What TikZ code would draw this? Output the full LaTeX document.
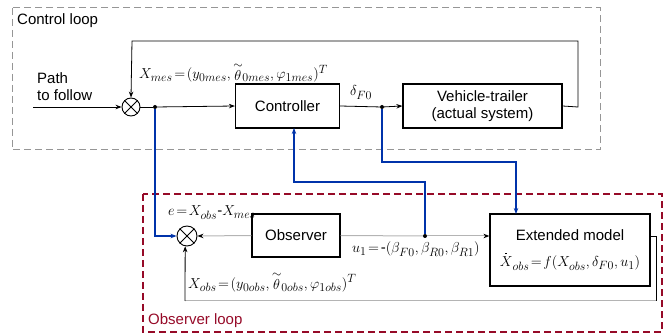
\documentclass[tikz,border=0pt]{standalone}
\usepackage{fontspec}
\setmainfont{Liberation Sans}
\DeclareMathSizes{15}{15}{11.5}{9}
\usetikzlibrary{arrows.meta}
\definecolor{lblue}{RGB}{0,51,170}
\definecolor{dred}{RGB}{150,10,40}
\definecolor{dgray}{RGB}{150,150,150}
\definecolor{wgray}{RGB}{180,180,180}
\newcommand{\tth}{\mathord{\stackrel{\sim}{\theta}}}
\newcommand{\dX}{\mathord{\rlap{\hspace{5.5pt}\rule[12.5pt]{1.5pt}{1.5pt}}X}}
\begin{document}
\begin{tikzpicture}[x=1pt,y=-1pt,
  blk/.style={draw,line width=1.2pt,inner sep=0pt,align=center,font=\fontsize{15}{17}\selectfont},
  txt/.style={inner sep=0pt,font=\fontsize{15}{17}\selectfont},
  mth/.style={inner sep=0pt,font=\fontsize{15}{17}\selectfont},
  sumnode/.style={circle,draw,line width=0.9pt,inner sep=0pt},
  arr/.style={-{Stealth[length=6pt,width=4.5pt]}},
  wire/.style={line width=0.8pt},
  gwire/.style={line width=1pt,draw=wgray},
  bl/.style={draw=lblue,line width=2pt},
  dotnode/.style={circle,fill,inner sep=0pt,minimum size=4pt}
]
\useasboundingbox (0,0) rectangle (665,334);

% loop frames
\draw[dgray,line width=1pt,dash pattern=on 7pt off 4pt] (12,8) rectangle (600,150);
\draw[dred,line width=1.2pt,dash pattern=on 7pt off 4pt] (143,194) rectangle (662,332);
\node[txt,anchor=west] (lctrl) at (17,21) {Control loop};
\node[txt,anchor=west,text=dred] (lobs) at (148,321) {Observer loop};

% blocks
\node[blk,minimum width=104pt,minimum height=44pt] (ctrl) at (287.5,106) {Controller};
\node[blk,minimum width=159pt,minimum height=44pt] (veh) at (482.5,106) {Vehicle-trailer\\(actual system)};
\node[blk,minimum width=88pt,minimum height=43pt] (obs) at (296,235.5) {Observer};
\node[blk,minimum width=160pt,minimum height=72pt,font=\fontsize{15}{26}\selectfont] (ext) at (570,250)
  {Extended model\\$\dX_{obs}\!=\!f(X_{obs},\delta_{F0},u_1)$};

% summing junctions
\node[sumnode,minimum size=18pt] (s1) at (131,107) {};
\draw[line width=0.8pt] (s1.45) -- (s1.225) (s1.135) -- (s1.315);
\node[sumnode,minimum size=20pt] (s2) at (187,236) {};
\draw[line width=0.8pt] (s2.45) -- (s2.225) (s2.135) -- (s2.315);

% dots
\node[dotnode] (d1) at (155,107) {};
\node[dotnode] (d2) at (382,107) {};
\node[dotnode] (d3) at (425,236) {};
\coordinate (pin) at (33,107);

% texts
\node[txt,anchor=west] (path1) at (37,78) {Path};
\node[txt,anchor=west] (path2) at (37,95) {to follow};
\node[mth,anchor=base west] (xmes) at (139,79) {$X_{mes}\!=\!(y_{0mes},\tth_{0mes},\varphi_{1mes})^T$};
\node[mth,anchor=base west] (dlt) at (350,96) {$\delta_{F0}$};
\node[mth,anchor=base west] (err) at (168,216) {$e\!=\!X_{obs}\mbox{-}X_{mes}$};
\node[mth,anchor=base west] (uu) at (352,253) {$u_1\!=\!\mbox{-}(\beta_{F0},\beta_{R0},\beta_{R1})$};
\node[mth,anchor=base west] (xobs) at (188,288) {$X_{obs}\!=\!(y_{0obs},\tth_{0obs},\varphi_{1obs})^T$};

% control loop wires
\draw[wire,arr] (pin) -- (s1.west);
\draw[wire] (s1.east) -- (d1);
\draw[wire,arr] (d1) -- (ctrl.west);
\draw[wire] (ctrl.east) -- (d2);
\draw[wire,arr] (d2) -- (veh.west);
\draw[wire,arr] (veh.east) -- (578,107) -- (578,41) -- (132,41) -- (s1.north);

% blue links
\draw[bl,arr] (d1) -- (155,236) -- (s2.west);
\draw[bl,arr] (d3) -- (425,182) -- (294,182) -- (294,128);
\draw[bl,arr] (d2) -- (382,162) -- (516,162) -- (516,214);

% observer loop wires
\draw[gwire,-{Stealth[length=6pt,width=4.5pt,color=black]}] (obs.west) -- (s2.east);
\draw[gwire] (obs.east) -- (d3);
\draw[gwire,-{Stealth[length=6pt,width=4.5pt,color=black]}] (d3) -- (ext.west |- d3);
\draw[wire] (ext.east |- d3) -- (656,236) -- (656,301);
\draw[gwire] (656,301) -- (185,301);
\draw[wire,arr] (185,301) -- (s2.260);
\end{tikzpicture}
\end{document}
